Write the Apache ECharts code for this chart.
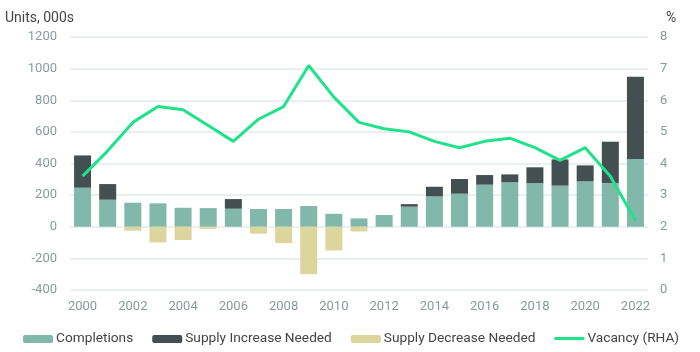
<!DOCTYPE html>
<html>
<head>
<meta charset="utf-8">
<script src="https://cdn.jsdelivr.net/npm/echarts@6/dist/echarts.min.js"></script>
<style>
  html, body { margin: 0; padding: 0; background: #fff; }
  #chart { width: 700px; height: 352px; }
</style>
</head>
<body>
<div id="chart"></div>
<script>
// years on the x axis
const years = ['2000','2001','2002','2003','2004','2005','2006','2007','2008','2009','2010','2011',
  '2012','2013','2014','2015','2016','2017','2018','2019','2020','2021','2022'];
// units, 000s
const completions = [247,171,152,148,120,118,114,112,112,131,82,53,74,127,192,209,266,281,276,260,287,277,428];
const increaseNeeded = [204,99,0,0,0,0,61,0,0,0,0,0,0,16,61,93,61,50,100,166,101,261,521];
const decreaseNeeded = [0,0,-25,-99,-84,-13,0,-44,-103,-300,-150,-30,0,0,0,0,0,0,0,0,0,0,0];
// vacancy %, right axis
const vacancy = [3.6,4.4,5.3,5.8,5.7,5.2,4.7,5.4,5.8,7.1,6.1,5.3,5.1,5.0,4.7,4.5,4.7,4.8,4.5,4.1,4.5,3.6,2.2];

const font = 'Roboto';
const tickColor = '#8b9a9a';
// thin bar for the line legend icon (extra points keep the box 8px tall)
const lineIcon = 'path://M0,-3.5L0.01,-3.5M0,4.5L0.01,4.5M0,-1.5L30,-1.5L30,1.5L0,1.5Z';

const chart = echarts.init(document.getElementById('chart'));

chart.setOption({
  animation: false,
  textStyle: { fontFamily: font },
  grid: { left: 70, right: 52, top: 37, bottom: 62 },
  legend: {
    left: 18,
    top: 327,
    width: 690,
    itemWidth: 30,
    itemHeight: 8,
    itemGap: 19,
    textStyle: { fontSize: 13.7, color: '#444', fontFamily: font, padding: [0, 0, 0, -2] },
    data: ['Completions', 'Supply Increase Needed', 'Supply Decrease Needed',
      { name: 'Vacancy (RHA)', icon: lineIcon }]
  },
  xAxis: {
    type: 'category',
    data: years,
    axisLine: { show: false },
    axisTick: { show: false },
    axisLabel: { interval: 1, color: tickColor, fontSize: 13, margin: 10 }
  },
  yAxis: [{
    type: 'value',
    min: -400,
    max: 1200,
    interval: 200,
    name: 'Units, 000s',
    nameLocation: 'end',
    nameGap: 12,
    nameTextStyle: { color: '#444', fontSize: 14, align: 'left', padding: [0, 0, 0, -65] },
    axisLabel: { color: tickColor, fontSize: 13, margin: 13, formatter: function (v) { return String(v); } },
    splitLine: { lineStyle: { color: '#e6eaea', width: 1.5 } }
  }, {
    type: 'value',
    min: 0,
    max: 8,
    interval: 1,
    name: '%',
    nameLocation: 'end',
    nameGap: 12,
    nameTextStyle: { color: '#444', fontSize: 14, align: 'left', padding: [0, 0, 0, 18] },
    axisLabel: { color: tickColor, fontSize: 13, margin: 12 },
    splitLine: { show: false }
  }],
  series: [{
    name: 'Completions',
    type: 'bar',
    stack: 'units',
    barWidth: 17,
    itemStyle: { color: '#81b8a9' },
    data: completions
  }, {
    name: 'Supply Increase Needed',
    type: 'bar',
    stack: 'units',
    barWidth: 17,
    itemStyle: { color: '#434f51' },
    data: increaseNeeded
  }, {
    name: 'Supply Decrease Needed',
    type: 'bar',
    stack: 'units',
    barWidth: 17,
    itemStyle: { color: '#dcd69c' },
    data: decreaseNeeded
  }, {
    name: 'Vacancy (RHA)',
    type: 'line',
    yAxisIndex: 1,
    symbol: 'none',
    lineStyle: { color: '#1ee38a', width: 3 },
    itemStyle: { color: '#1ee38a' },
    data: vacancy
  }]
});
</script>
</body>
</html>
